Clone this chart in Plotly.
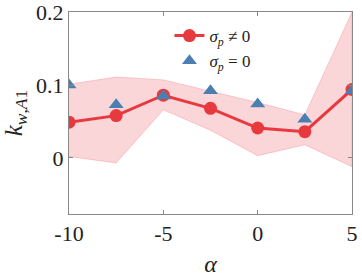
import plotly.graph_objects as go

alpha = [-10, -7.5, -5, -2.5, 0, 2.5, 5]
k_sigma_nonzero = [0.049, 0.058, 0.086, 0.068, 0.041, 0.036, 0.094]
k_sigma_zero = [0.100, 0.073, 0.085, 0.092, 0.074, 0.053, 0.092]
band_upper = [0.101, 0.111, 0.107, 0.092, 0.076, 0.059, 0.200]
band_lower = [0.002, -0.007, 0.066, 0.038, 0.003, 0.018, -0.012]

x_tickvals = [-10, -5, 0, 5]
x_ticktext = ["-10", "-5", "0", "5"]
y_tickvals = [0, 0.1, 0.2]
y_ticktext = ["0", "0.1", "0.2"]

red = "#e8393f"
blue = "#4a7fb1"
font = "Liberation Serif"

fig = go.Figure()
fig.add_trace(go.Scatter(
    x=alpha + alpha[::-1], y=band_upper + band_lower[::-1],
    fill="toself", fillcolor="rgba(242,120,128,0.3)",
    line=dict(color="rgba(242,120,128,0.35)", width=1),
    mode="lines", showlegend=False, hoverinfo="skip"))
fig.add_trace(go.Scatter(
    x=alpha, y=k_sigma_nonzero, mode="lines+markers",
    line=dict(color=red, width=3),
    marker=dict(color=red, size=13, symbol="circle"),
    name="<i>σ<sub>p</sub></i> ≠ 0"))
fig.add_trace(go.Scatter(
    x=alpha, y=k_sigma_zero, mode="markers",
    marker=dict(color=blue, size=13, symbol="triangle-up"),
    name="<i>σ<sub>p</sub></i> = 0"))

axis_common = dict(showline=True, linecolor="#888888", linewidth=1, mirror="ticks",
                   ticks="inside", ticklen=4, tickcolor="#888888", showgrid=False,
                   zeroline=False, automargin=False, ticklabeloverflow="allow",
                   tickfont=dict(family=font, size=22, color="#222"))
fig.update_xaxes(range=[-10, 5], tickvals=x_tickvals, ticktext=x_ticktext,
                 title=dict(text="<i>α</i>", font=dict(family=font, size=24, color="#222"), standoff=10),
                 **axis_common)
fig.update_yaxes(range=[-0.077, 0.2002], tickvals=y_tickvals, ticktext=y_ticktext,
                 title=dict(text="<i>k</i><sub><i>w</i>,<i>A</i>1</sub>", font=dict(family=font, size=25, color="#222"), standoff=9),
                 **axis_common)
fig.update_layout(
    width=362, height=277,
    margin=dict(l=69, r=10, t=12, b=63, autoexpand=False),
    plot_bgcolor="white", paper_bgcolor="white",
    legend=dict(x=0.355, y=0.97, xanchor="left", yanchor="top",
                bgcolor="rgba(0,0,0,0)", font=dict(family=font, size=17, color="#222"),
                itemwidth=30, tracegroupgap=0),
    showlegend=True,
)
fig.write_html("out.html", config={"displayModeBar": False},
               post_script="document.body.style.margin='0';")
